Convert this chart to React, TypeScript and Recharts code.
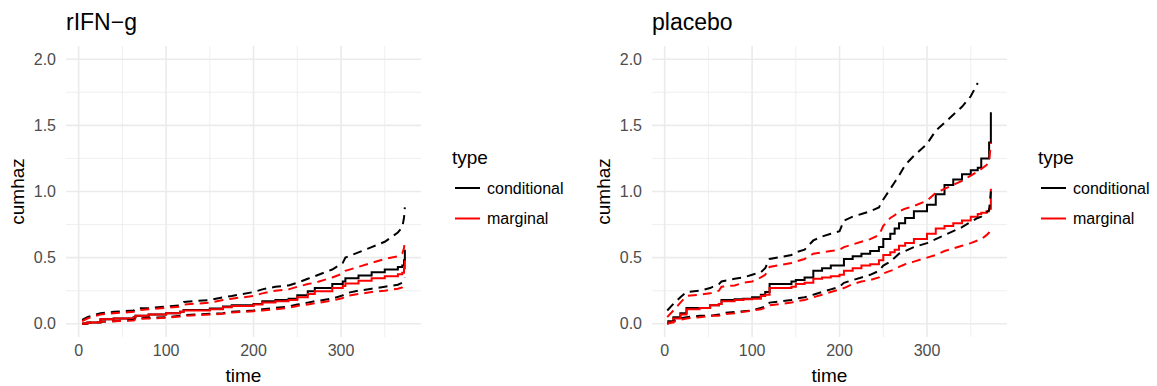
import React from "react";
import { CartesianGrid, Line, LineChart, XAxis, YAxis } from "recharts";

// rIFN-g panel
const rifnTime = [4, 10, 25, 40, 63, 65, 80, 100, 116, 120, 150, 165, 175, 200, 210, 225, 240, 250, 262, 270, 290, 302, 305, 320, 335, 350, 365, 370, 372, 373];
const rifnCond = [0, 0.01, 0.035, 0.04, 0.05, 0.06, 0.07, 0.08, 0.09, 0.105, 0.115, 0.13, 0.14, 0.15, 0.17, 0.18, 0.19, 0.215, 0.245, 0.27, 0.3, 0.32, 0.345, 0.365, 0.39, 0.41, 0.43, 0.44, 0.48, 0.56];
const rifnMarg = [0, 0.01, 0.035, 0.04, 0.05, 0.06, 0.07, 0.08, 0.09, 0.1, 0.11, 0.125, 0.135, 0.145, 0.16, 0.17, 0.18, 0.2, 0.225, 0.245, 0.27, 0.285, 0.305, 0.325, 0.345, 0.36, 0.375, 0.385, 0.42, 0.48];
const rifnCondUp = [0.03, 0.05, 0.08, 0.09, 0.1, 0.115, 0.12, 0.13, 0.14, 0.165, 0.18, 0.2, 0.21, 0.24, 0.26, 0.28, 0.29, 0.31, 0.34, 0.36, 0.41, 0.46, 0.5, 0.54, 0.58, 0.62, 0.69, 0.73, 0.8, 0.88];
const rifnMargUp = [0.02, 0.04, 0.07, 0.08, 0.09, 0.1, 0.11, 0.12, 0.13, 0.145, 0.16, 0.18, 0.19, 0.21, 0.23, 0.25, 0.26, 0.28, 0.3, 0.31, 0.35, 0.38, 0.4, 0.43, 0.46, 0.49, 0.51, 0.53, 0.57, 0.64];
const rifnCondLo = [0, 0.005, 0.015, 0.02, 0.03, 0.04, 0.045, 0.05, 0.06, 0.065, 0.075, 0.08, 0.09, 0.1, 0.11, 0.12, 0.13, 0.145, 0.16, 0.17, 0.19, 0.215, 0.23, 0.25, 0.265, 0.28, 0.295, 0.31, 0.33, 0.35];
const rifnMargLo = [0, 0.005, 0.015, 0.02, 0.025, 0.035, 0.04, 0.045, 0.055, 0.06, 0.07, 0.075, 0.085, 0.095, 0.1, 0.11, 0.12, 0.135, 0.145, 0.155, 0.175, 0.195, 0.21, 0.225, 0.24, 0.25, 0.265, 0.275, 0.29, 0.31];

// placebo panel
const placeboTime = [3, 10, 18, 25, 40, 52, 62, 65, 80, 90, 100, 110, 115, 120, 145, 150, 160, 170, 180, 190, 200, 205, 215, 225, 235, 245, 250, 258, 263, 268, 275, 285, 300, 310, 320, 330, 340, 350, 358, 362, 368, 371, 373];
const placeboCond = [0.02, 0.05, 0.08, 0.12, 0.12, 0.14, 0.15, 0.18, 0.185, 0.19, 0.2, 0.22, 0.24, 0.3, 0.32, 0.33, 0.35, 0.4, 0.42, 0.44, 0.44, 0.49, 0.51, 0.53, 0.55, 0.58, 0.64, 0.68, 0.72, 0.76, 0.8, 0.85, 0.9, 0.98, 1.05, 1.09, 1.13, 1.16, 1.18, 1.25, 1.25, 1.37, 1.6];
const placeboMarg = [0.01, 0.04, 0.07, 0.11, 0.12, 0.14, 0.15, 0.17, 0.18, 0.185, 0.19, 0.21, 0.22, 0.27, 0.28, 0.3, 0.31, 0.34, 0.35, 0.36, 0.37, 0.4, 0.42, 0.44, 0.45, 0.48, 0.52, 0.54, 0.56, 0.59, 0.61, 0.64, 0.68, 0.72, 0.74, 0.76, 0.78, 0.81, 0.83, 0.84, 0.85, 0.87, 1.02];
const placeboCondUp = [0.1, 0.15, 0.2, 0.24, 0.25, 0.27, 0.3, 0.32, 0.34, 0.35, 0.37, 0.39, 0.42, 0.49, 0.52, 0.54, 0.56, 0.63, 0.66, 0.68, 0.7, 0.78, 0.81, 0.83, 0.85, 0.88, 0.94, 1.02, 1.07, 1.12, 1.2, 1.27, 1.36, 1.46, 1.52, 1.58, 1.64, 1.72, 1.82, null, null, null, null];
const placeboMargUp = [0.05, 0.1, 0.16, 0.21, 0.22, 0.23, 0.25, 0.28, 0.29, 0.31, 0.32, 0.35, 0.37, 0.43, 0.46, 0.47, 0.49, 0.53, 0.54, 0.55, 0.56, 0.58, 0.6, 0.62, 0.64, 0.67, 0.74, 0.8, 0.82, 0.85, 0.87, 0.89, 0.93, 0.99, 1.02, 1.05, 1.08, 1.12, 1.15, 1.17, 1.2, 1.22, 1.37];
const placeboCondLo = [0, 0.02, 0.04, 0.05, 0.06, 0.06, 0.07, 0.08, 0.09, 0.095, 0.1, 0.12, 0.13, 0.16, 0.18, 0.19, 0.2, 0.22, 0.24, 0.26, 0.28, 0.31, 0.33, 0.35, 0.37, 0.4, 0.44, 0.47, 0.5, 0.53, 0.55, 0.58, 0.61, 0.64, 0.67, 0.7, 0.73, 0.77, 0.8, 0.81, 0.84, 0.86, 1.0];
const placeboMargLo = [0, 0.015, 0.03, 0.04, 0.05, 0.06, 0.06, 0.07, 0.08, 0.09, 0.1, 0.11, 0.12, 0.14, 0.16, 0.17, 0.18, 0.2, 0.22, 0.24, 0.26, 0.27, 0.3, 0.32, 0.33, 0.35, 0.38, 0.4, 0.41, 0.43, 0.45, 0.47, 0.5, 0.52, 0.55, 0.57, 0.59, 0.61, 0.63, 0.64, 0.67, 0.69, 0.71];

const xTicks = [0, 100, 200, 300];
const xMinor = [50, 150, 250, 350];
const yTicks = [0, 0.5, 1, 1.5, 2];
const yMinor = [0.25, 0.75, 1.25, 1.75];
const panelTitles = ["rIFN\u2212g", "placebo"];
const legendLabels = ["conditional", "marginal"];

const BLACK = "#000000";
const RED = "#FF0000";
const FONT = "'Liberation Sans', Arial, sans-serif";

function buildRows(time: number[], cond: number[], marg: number[], condLo: (number | null)[], condUp: (number | null)[], margLo: number[], margUp: number[]) {
  return time.map((t, i) => ({
    time: t,
    cond: cond[i],
    marg: marg[i],
    condLo: condLo[i],
    condUp: condUp[i],
    margLo: margLo[i],
    margUp: margUp[i],
  }));
}

const panels = [
  { rows: buildRows(rifnTime, rifnCond, rifnMarg, rifnCondLo, rifnCondUp, rifnMargLo, rifnMargUp), left: 0 },
  { rows: buildRows(placeboTime, placeboCond, placeboMarg, placeboCondLo, placeboCondUp, placeboMargLo, placeboMargUp), left: 586 },
];

const tickStyle = { fontSize: 16, fill: "#4D4D4D" };

const Panel = ({ rows, left }: { rows: any[]; left: number }) => (
  <div style={{ position: "absolute", left, top: 0 }}>
    <LineChart width={421} height={386} data={rows} margin={{ top: 46, right: 0, bottom: 0, left: 0 }}>
      <CartesianGrid stroke="#EBEBEB" strokeWidth={0.8} horizontalValues={yMinor} verticalValues={xMinor} />
      <CartesianGrid stroke="#EBEBEB" strokeWidth={1.6} horizontalValues={yTicks} verticalValues={xTicks} />
      <XAxis
        dataKey="time"
        type="number"
        domain={[-14.45, 391.45]}
        allowDataOverflow
        ticks={xTicks}
        interval={0}
        tickLine={false}
        axisLine={false}
        tickSize={0}
        tickMargin={8}
        height={49}
        tick={tickStyle}
      />
      <YAxis
        type="number"
        domain={[-0.1, 2.1]}
        allowDataOverflow
        ticks={yTicks}
        interval={0}
        tickFormatter={(v: number) => v.toFixed(1)}
        tickLine={false}
        axisLine={false}
        tickSize={0}
        tickMargin={10}
        width={66}
        tick={tickStyle}
      />
      <Line type="stepAfter" dataKey="cond" stroke={BLACK} strokeWidth={2} dot={false} isAnimationActive={false} />
      <Line type="stepAfter" dataKey="marg" stroke={RED} strokeWidth={2} dot={false} isAnimationActive={false} />
      <Line type="linear" dataKey="condLo" stroke={BLACK} strokeWidth={2} strokeDasharray="9 6" dot={false} isAnimationActive={false} />
      <Line type="linear" dataKey="margLo" stroke={RED} strokeWidth={2} strokeDasharray="9 6" dot={false} isAnimationActive={false} />
      <Line type="linear" dataKey="condUp" stroke={BLACK} strokeWidth={2} strokeDasharray="9 6" dot={false} isAnimationActive={false} />
      <Line type="linear" dataKey="margUp" stroke={RED} strokeWidth={2} strokeDasharray="9 6" dot={false} isAnimationActive={false} />
    </LineChart>
  </div>
);

const Decorations = () => (
  <svg width={1157} height={386} style={{ position: "absolute", left: 0, top: 0, pointerEvents: "none" }}>
    {panels.map((p, i) => {
      const ox = p.left;
      return (
        <g key={i} fontFamily={FONT}>
          <text x={ox + 66} y={30} fontSize={23} fill="#000">{panelTitles[i]}</text>
          <text transform={`translate(${ox + 23.5},191.5) rotate(-90)`} textAnchor="middle" fontSize={19} fill="#000">cumhaz</text>
          <text x={ox + 243.5} y={382} textAnchor="middle" fontSize={19} fill="#000">time</text>
          <text x={ox + 452} y={164} fontSize={19} fill="#000">type</text>
          {legendLabels.map((lab, j) => (
            <g key={lab}>
              <line x1={ox + 455} x2={ox + 480} y1={188 + j * 30.5} y2={188 + j * 30.5} stroke={j === 0 ? BLACK : RED} strokeWidth={2} />
              <text x={ox + 487} y={193.5 + j * 30.5} fontSize={16} fill="#000">{lab}</text>
            </g>
          ))}
        </g>
      );
    })}
  </svg>
);

export default function App() {
  return (
    <div style={{ position: "absolute", left: 0, top: 0, width: 1157, height: 386, background: "#fff", fontFamily: FONT }}>
      {panels.map((p, i) => (
        <Panel key={i} rows={p.rows} left={p.left} />
      ))}
      <Decorations />
    </div>
  );
}
